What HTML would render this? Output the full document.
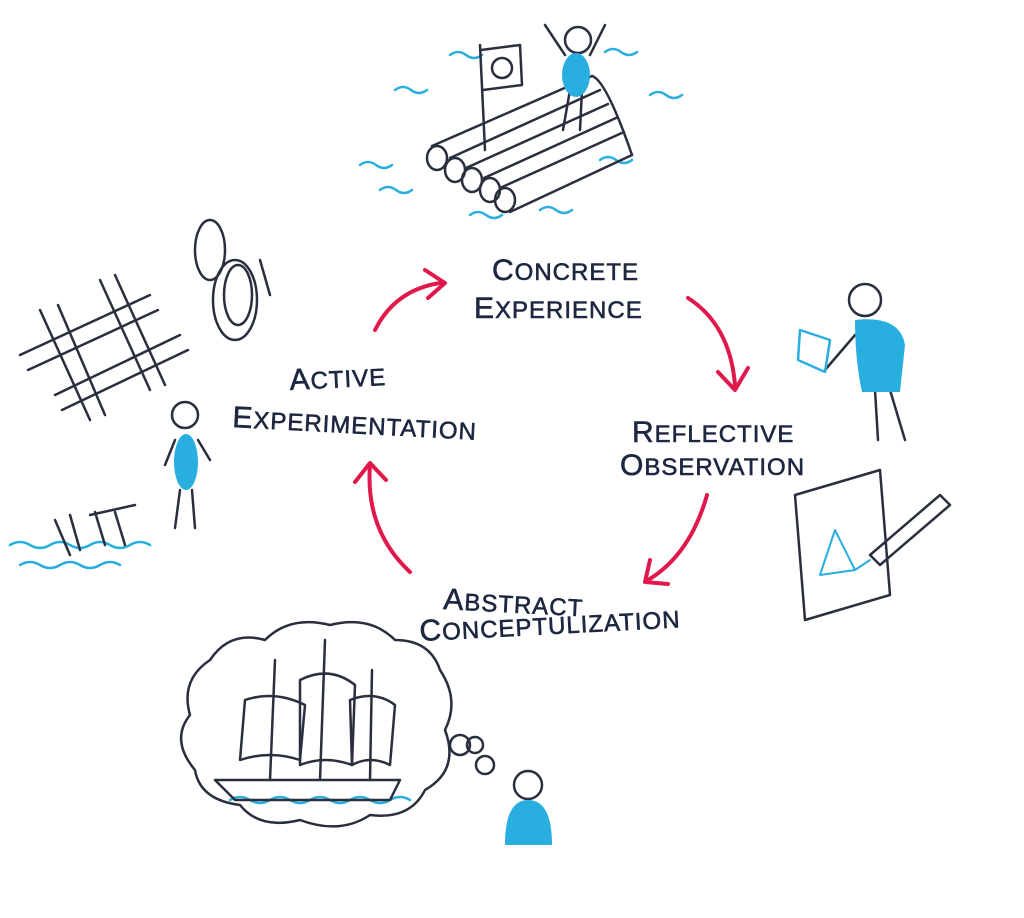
<!DOCTYPE html>
<html><head><meta charset="utf-8"><style>
html,body{margin:0;padding:0;background:#fff;}
svg{display:block;}
text{font-family:"Liberation Sans Narrow","Liberation Sans",sans-serif;fill:#1e2741;stroke:#1e2741;stroke-width:0.6;letter-spacing:1px;}
</style></head><body>
<svg width="1024" height="918" viewBox="0 0 1024 918" xmlns="http://www.w3.org/2000/svg">
<g fill="none" stroke-linecap="round" stroke-linejoin="round">
<g>
<text x="492" y="280" font-size="30">C<tspan font-size="24">ONCRETE</tspan></text>
<text x="474" y="318" font-size="30">E<tspan font-size="24">XPERIENCE</tspan></text>
<text x="632" y="442" font-size="30">R<tspan font-size="24">EFLECTIVE</tspan></text>
<text x="620" y="475" font-size="30">O<tspan font-size="24">BSERVATION</tspan></text>
<text x="443" y="609" font-size="30" transform="rotate(3 443 609)">A<tspan font-size="24">BSTRACT</tspan></text>
<text x="420" y="641" font-size="30" transform="rotate(-3 420 641)">C<tspan font-size="24">ONCEPTULIZATION</tspan></text>
<text x="290" y="390" font-size="30" transform="rotate(-3 290 390)">A<tspan font-size="24">CTIVE</tspan></text>
<text x="232" y="427" font-size="30" transform="rotate(3 232 427)">E<tspan font-size="24">XPERIMENTATION</tspan></text>
</g>
<g stroke="#e0184c" stroke-width="4">
<path d="M375 330 Q395 290 440 283"/><path d="M425 270 L445 283 L428 298"/>
<path d="M688 298 Q730 325 735 385"/><path d="M718 372 L735 390 L748 368"/>
<path d="M707 495 Q690 555 648 580"/><path d="M650 560 L645 582 L668 584"/>
<path d="M410 572 Q365 530 370 465"/><path d="M355 482 L370 463 L386 480"/>
</g>
<g stroke="#29aee0" stroke-width="2.5">
<path d="M450 55 q8-6 16 0 q8 6 16 0"/><path d="M395 90 q8-6 16 0 q8 6 16 0"/><path d="M605 52 q8-6 16 0 q8 6 16 0"/>
<path d="M360 165 q8-6 16 0 q8 6 16 0"/><path d="M380 190 q8-6 16 0 q8 6 16 0"/><path d="M470 215 q8-6 16 0 q8 6 16 0"/>
<path d="M540 210 q8-6 16 0 q8 6 16 0"/><path d="M600 160 q8-6 16 0 q8 6 16 0"/><path d="M650 95 q8-6 16 0 q8 6 16 0"/>
<path d="M10 545 q10-6 20 0 q10 6 20 0 q10-6 20 0 q10 6 20 0 q10-6 20 0 q10 6 20 0 q10-6 20 0"/>
<path d="M20 565 q10-6 20 0 q10 6 20 0 q10-6 20 0 q10 6 20 0 q10-6 20 0"/>
<path d="M230 800 q10-6 20 0 q10 6 20 0 q10-6 20 0 q10 6 20 0 q10-6 20 0 q10 6 20 0 q10-6 20 0 q10 6 20 0 q10-6 20 0"/>
</g>
<g stroke="#2a2f3e" stroke-width="2.5">
<path d="M432 146 L592 76"/><path d="M450 158 L600 90"/><path d="M466 168 L608 104"/><path d="M484 178 L616 118"/><path d="M500 188 L624 132"/><path d="M510 212 L632 155"/>
<path d="M592 76 Q606 80 632 155"/>
<ellipse cx="437" cy="158" rx="10" ry="12"/><ellipse cx="455" cy="170" rx="10" ry="12"/><ellipse cx="472" cy="180" rx="10" ry="12"/><ellipse cx="490" cy="190" rx="10" ry="12"/><ellipse cx="505" cy="200" rx="10" ry="12"/>
<path d="M485 150 L480 45"/><path d="M481 50 L520 45 L522 85 L483 90"/><circle cx="502" cy="68" r="10"/>
<circle cx="578" cy="40" r="13"/><path d="M565 55 L545 25"/><path d="M590 55 L605 25"/><path d="M570 90 L563 130"/><path d="M582 90 L580 130"/>
</g>
<ellipse cx="576" cy="75" rx="14" ry="22" fill="#29aee0"/>
<g stroke="#2a2f3e" stroke-width="2.5">
<circle cx="865" cy="300" r="16"/><path d="M875 390 L878 440"/><path d="M890 390 L905 440"/>
<path d="M855 335 L825 370"/><path d="M800 330 L830 340 L825 372 L798 360 Z" stroke="#29aee0"/>
</g>
<path d="M855 320 Q900 315 905 345 L900 392 L862 392 Q855 360 855 320 Z" fill="#29aee0"/>
<g stroke="#2a2f3e" stroke-width="2.5">
<path d="M795 495 L880 470 L890 595 L805 620 Z"/>
<path d="M870 555 L940 495 L950 505 L880 565 Z"/>
</g>
<g stroke="#29aee0" stroke-width="2"><path d="M835 530 L820 575 L855 570 Z"/><path d="M855 570 L870 560"/></g>
<g stroke="#2a2f3e" stroke-width="2.5">
<ellipse cx="235" cy="300" rx="22" ry="40"/><ellipse cx="238" cy="295" rx="14" ry="30"/><ellipse cx="210" cy="250" rx="15" ry="30"/>
<path d="M260 260 L270 295"/>
<path d="M20 355 L150 295"/><path d="M28 370 L158 310"/><path d="M55 395 L180 335"/><path d="M62 410 L188 350"/>
<path d="M40 310 L90 420"/><path d="M58 305 L105 415"/><path d="M100 280 L150 390"/><path d="M115 275 L165 385"/>
<circle cx="185" cy="415" r="13"/><path d="M180 490 L175 528"/><path d="M192 490 L195 528"/>
<path d="M175 440 L165 465"/><path d="M198 440 L210 460"/>
<path d="M55 520 L70 555"/><path d="M70 515 L80 550"/><path d="M95 512 L105 545"/><path d="M115 512 L125 545"/><path d="M90 515 L135 505"/>
</g>
<ellipse cx="186" cy="462" rx="12" ry="28" fill="#29aee0"/>
<g stroke="#2a2f3e" stroke-width="2.5">
<path d="M210 660 Q230 630 265 640 Q290 615 330 625 Q370 615 395 640 Q430 640 440 670 Q460 700 445 730 Q460 770 425 790 Q410 820 370 815 Q340 835 300 820 Q260 830 240 805 Q200 800 195 770 Q170 740 190 715 Q180 680 210 660 Z"/>
<path d="M215 780 L400 780 L390 800 L235 800 Z"/>
<path d="M270 780 L275 660"/><path d="M320 780 L325 640"/><path d="M370 780 L372 670"/>
<path d="M245 700 Q275 690 305 705 L300 760 Q270 750 240 760 Z"/>
<path d="M300 680 Q330 665 355 685 L352 765 Q325 755 300 765 Z"/>
<path d="M350 700 Q375 690 395 705 L390 765 Q370 755 352 765 Z"/>
<circle cx="460" cy="745" r="10"/><circle cx="485" cy="765" r="9"/><circle cx="475" cy="745" r="8"/>
<circle cx="528" cy="785" r="14"/>
</g>
<path d="M505 845 Q505 800 528 800 Q552 800 552 845 Z" fill="#29aee0"/>
</g>
</svg>
</body></html>
